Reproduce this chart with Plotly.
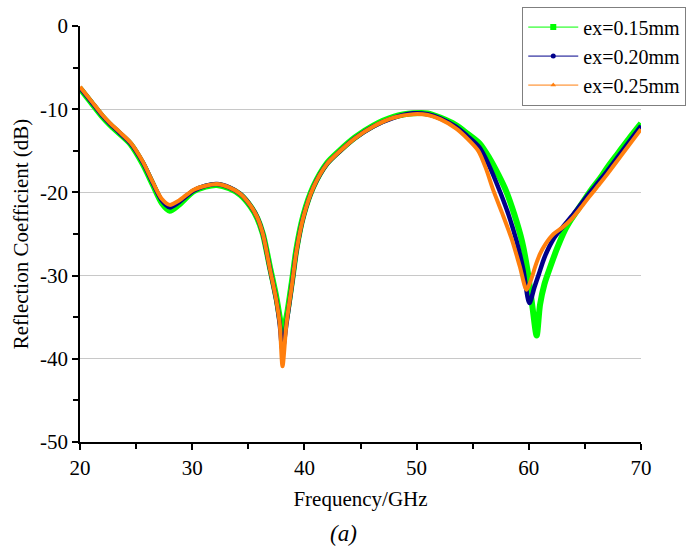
import plotly.graph_objects as go

# ---- data ----
x_015 = [20, 21, 22, 22.7, 23.5, 24.5, 25.6, 26.5, 27.3, 28.0, 28.8, 30.1, 31.2, 32.2, 33.3, 34.3,
         35.2, 35.8, 36.3, 36.9, 37.5, 37.8, 38.05, 38.4, 38.9, 39.3, 39.9, 40.8, 42.0, 43.2, 44.5,
         46.1, 48.0, 49.7, 51.0, 52.1, 53.5, 54.5, 55.6, 56.5, 57.3, 58.0, 58.7, 59.4, 59.9, 60.3,
         60.7, 61.0, 61.4, 61.9, 62.5, 63.2, 63.8, 64.6, 65.5, 66.3, 67.0, 68.0, 69.0, 70.0]
y_015 = [-7.5, -9.2, -10.9, -11.9, -12.9, -14.2, -16.6, -19.1, -21.3, -22.2, -21.5, -19.9, -19.3,
         -19.1, -19.5, -20.3, -21.7, -23.1, -25.0, -28.8, -32.6, -35.0, -36.8, -35.0, -30.6, -26.7,
         -22.8, -19.3, -16.5, -14.9, -13.4, -12.0, -10.9, -10.5, -10.5, -11.0, -11.9, -12.9, -14.1,
         -15.9, -17.9, -19.9, -22.6, -25.9, -29.5, -33.5, -37.2, -33.5, -31.0, -29.0, -26.8, -24.6,
         -23.2, -21.6, -19.8, -18.4, -17.0, -15.2, -13.4, -11.7]

x_020 = [20, 21, 22, 22.7, 23.5, 24.5, 25.6, 26.5, 27.3, 28.0, 28.8, 30.1, 31.2, 32.2, 33.3, 34.3,
         35.2, 35.8, 36.3, 36.9, 37.5, 37.8, 38.05, 38.4, 38.9, 39.3, 39.9, 40.8, 42.0, 43.2, 44.5,
         46.1, 48.0, 49.7, 51.0, 52.1, 53.5, 54.5, 55.6, 56.4, 57.4, 58.2, 58.9, 59.5, 60.05,
         60.5, 60.9, 61.4, 62.2, 63.0, 63.8, 64.6, 65.4, 66.3, 67.0, 68.0, 69.0, 70.0]
y_020 = [-7.4, -9.1, -10.8, -11.8, -12.8, -14.1, -16.4, -18.9, -21.0, -21.8, -21.2, -19.8, -19.2,
         -19.0, -19.4, -20.2, -21.6, -23.0, -25.0, -29.0, -33.0, -35.8, -39.0, -35.8, -31.0, -27.0,
         -23.0, -19.4, -16.6, -15.0, -13.5, -12.1, -11.0, -10.5, -10.6, -11.1, -12.1, -13.2, -14.6,
         -16.6, -19.8, -22.7, -25.8, -29.2, -33.3, -31.4, -29.8, -27.8, -25.6, -24.2, -22.9, -21.5,
         -20.1, -18.6, -17.4, -15.6, -13.8, -12.0]

x_025 = [20, 21, 22, 22.7, 23.5, 24.5, 25.6, 26.5, 27.3, 28.0, 28.8, 30.1, 31.2, 32.2, 33.3, 34.3,
         35.2, 35.8, 36.3, 36.9, 37.5, 37.8, 38.05, 38.4, 38.9, 39.3, 39.9, 40.8, 42.0, 43.2, 44.5,
         46.1, 48.0, 49.7, 51.0, 52.1, 53.5, 54.5, 55.5, 56.2, 56.8, 57.6, 58.5, 59.2, 59.8, 60.2,
         60.6, 61.0, 61.5, 62.2, 63.0, 63.8, 64.6, 65.4, 66.3, 67.0, 68.0, 69.0, 70.0]
y_025 = [-7.3, -9.0, -10.7, -11.7, -12.7, -14.0, -16.3, -18.8, -20.8, -21.5, -21.0, -19.7, -19.2,
         -19.0, -19.4, -20.2, -21.6, -23.0, -25.0, -29.0, -33.0, -35.8, -40.9, -35.8, -31.0, -27.0,
         -23.0, -19.4, -16.6, -15.0, -13.5, -12.1, -11.0, -10.6, -10.7, -11.2, -12.3, -13.5, -15.0,
         -17.2, -19.6, -22.4, -25.7, -28.9, -31.7, -30.5, -28.8, -27.4, -26.2, -25.0, -24.2, -23.2,
         -21.9, -20.5, -19.0, -17.8, -16.0, -14.2, -12.4]

series_names = ["ex=0.15mm", "ex=0.20mm", "ex=0.25mm"]
y_tick_vals = [0, -10, -20, -30, -40, -50]
y_tick_text = ["0", "-10", "-20", "-30", "-40", "-50"]
x_tick_vals = [20, 30, 40, 50, 60, 70]
x_tick_text = ["20", "30", "40", "50", "60", "70"]

# ---- style ----
FONT = "Times New Roman, Liberation Serif, serif"
colors = ["#00ff00", "#00008b", "#ff7f0e"]
widths = [6, 4.5, 4]
symbols = ["square", "circle", "triangle-up"]
msizes = [6, 5, 5]

fig = go.Figure()
data = [(x_015, y_015), (x_020, y_020), (x_025, y_025)]
for (xs, ys), c, w in zip(data, colors, widths):
    fig.add_trace(go.Scatter(x=xs, y=ys, mode="lines", showlegend=False,
                             line=dict(color=c, width=w, shape="spline", smoothing=0.8),
                             hoverinfo="skip"))
# legend entries
for name, c, s, ms in zip(series_names, colors, symbols, msizes):
    fig.add_trace(go.Scatter(x=[None], y=[None], mode="lines+markers", name=name,
                             line=dict(color=c, width=1), marker=dict(color=c, symbol=s, size=ms)))

fig.update_layout(
    width=689, height=549,
    margin=dict(l=80, r=48, t=26, b=107, autoexpand=False),
    paper_bgcolor="white", plot_bgcolor="white",
    font=dict(family=FONT, size=21, color="black"),
    showlegend=True,
    legend=dict(xref="container", yref="container", x=0.758, y=0.988,
                xanchor="left", yanchor="top",
                bgcolor="white", bordercolor="#7f7f7f", borderwidth=1,
                itemwidth=50, font=dict(family=FONT, size=20), tracegroupgap=0),
    xaxis=dict(range=[20, 70], tickvals=x_tick_vals, ticktext=x_tick_text,
               ticks="outside", ticklen=6, tickwidth=1.5, tickcolor="black",
               minor=dict(dtick=5, ticks="outside", ticklen=5, tickwidth=1.5, tickcolor="black", showgrid=False),
               showline=True, linecolor="black", linewidth=1.5, showgrid=False, zeroline=False,
               title=dict(text="Frequency/GHz", standoff=12, font=dict(family=FONT, size=21))),
    yaxis=dict(range=[-50, 0], tickvals=y_tick_vals, ticktext=y_tick_text,
               ticks="outside", ticklen=6, tickwidth=1.5, tickcolor="black",
               minor=dict(dtick=5, ticks="outside", ticklen=5, tickwidth=1.5, tickcolor="black", showgrid=False),
               showline=True, linecolor="black", linewidth=1.5,
               showgrid=True, gridcolor="#c8c8c8", gridwidth=1, zeroline=False,
               title=dict(text="Reflection Coefficient (dB)", standoff=6, font=dict(family=FONT, size=21))),
)
fig.add_annotation(text="<i>(a)</i>", xref="paper", yref="paper", x=0.469, y=-0.219,
                   showarrow=False, font=dict(family=FONT, size=23), xanchor="center", yanchor="middle")

fig.write_html("out.html")
